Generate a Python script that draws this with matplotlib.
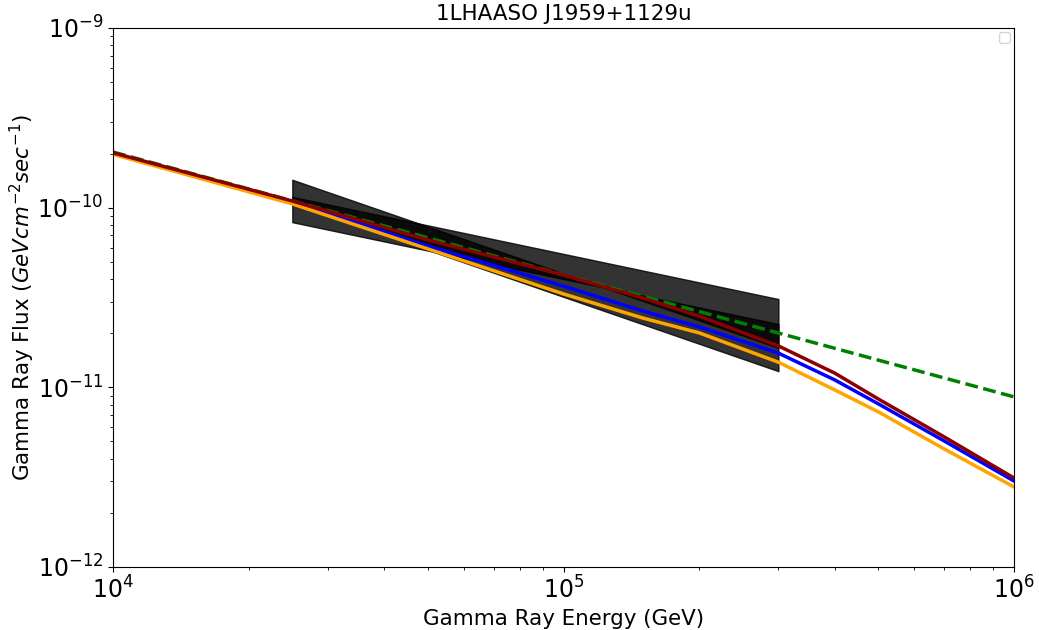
import matplotlib
matplotlib.use("Agg")
from matplotlib import pyplot as plt

# energies (GeV) where the model curves were read
energy = [1e4, 2.5e4, 5e4, 1e5, 1.5e5, 2e5, 3e5, 4e5, 5e5, 7e5, 1e6]
flux_red = [2.02e-10, 1.089e-10, 6.61e-11, 4.22e-11, 3.14e-11, 2.49e-11,
            1.70e-11, 1.20e-11, 8.61e-12, 5.30e-12, 3.13e-12]
flux_blue = [2.00e-10, 1.076e-10, 6.12e-11, 3.66e-11, 2.66e-11, 2.17e-11,
             1.55e-11, 1.10e-11, 8.09e-12, 5.03e-12, 3.01e-12]
flux_orange = [1.98e-10, 1.049e-10, 5.89e-11, 3.31e-11, 2.43e-11, 2.01e-11,
               1.38e-11, 9.67e-12, 7.30e-12, 4.54e-12, 2.79e-12]

# power law (dashed)
energy_pl = [1e4, 1e5, 1e6]
flux_pl = [2.04e-10, 4.23e-11, 8.85e-12]

# butterfly edges at the ends of the fitted range
band_energy = [2.5e4, 3e5]
edge_a = [1.43e-10, 1.66e-11]   # N+ , steep
edge_b = [1.148e-10, 3.10e-11]  # N+ , soft
edge_c = [1.06e-10, 1.23e-11]   # N- , steep
edge_d = [8.3e-11, 2.25e-11]    # N- , soft


def main():
    fig = plt.figure(figsize=(10.39, 6.3), dpi=100)
    ax = fig.add_subplot(111)
    fig.subplots_adjust(left=0.1088, right=0.9759, top=0.9556, bottom=0.1)

    ax.fill_between(band_energy, edge_a, edge_d, color="black", alpha=0.8,
                    edgecolor="black", linewidth=1)
    ax.fill_between(band_energy, edge_b, edge_c, color="black", alpha=0.8,
                    edgecolor="black", linewidth=1)

    ax.plot(energy_pl, flux_pl, color="green", linestyle="--", linewidth=2.5)
    ax.plot(energy, flux_blue, color="blue", linewidth=2.5)
    ax.plot(energy, flux_orange, color="orange", linewidth=2.5)
    ax.plot(energy, flux_red, color="darkred", linewidth=2.5)

    ax.set_xscale("log")
    ax.set_yscale("log")
    ax.set_xlim(1e4, 1e6)
    ax.set_ylim(1e-12, 1e-9)
    ax.tick_params(axis="both", which="major", labelsize=17)
    ax.set_xlabel("Gamma Ray Energy (GeV)", fontsize=15.4)
    ax.set_ylabel(r"Gamma Ray Flux ($GeV cm^{-2} sec^{-1}$)", fontsize=15.4)
    ax.yaxis.set_label_coords(-0.084, 0.5)
    ax.set_title("1LHAASO J1959+1129u", fontsize=15.4)
    ax.legend([], [], loc="upper right", borderaxespad=0.3)

    fig.savefig("out.png", dpi=100)


if __name__ == "__main__":
    main()
